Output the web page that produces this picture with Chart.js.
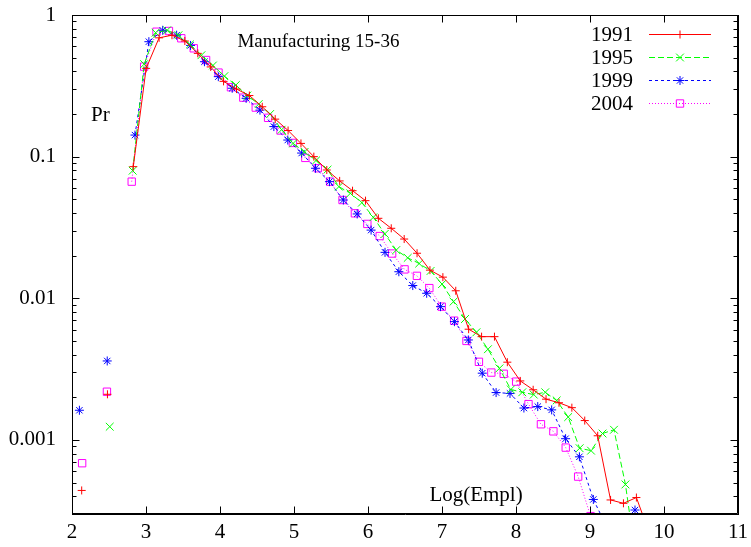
<!DOCTYPE html>
<html><head><meta charset="utf-8">
<script src="https://cdn.jsdelivr.net/npm/chart.js@4/dist/chart.umd.min.js"></script>
<style>html,body{margin:0;padding:0;background:#fff;}#wrap{width:751px;height:547px;}</style>
</head><body><div id="wrap"><canvas id="c" width="751" height="547"></canvas></div>
<script>
// ---- data ----
const seriesNames = ['1991', '1995', '1999', '2004'];

const x1991 = [2.131, 2.305, 2.479, 2.654, 2.828, 3.002, 3.177, 3.351, 3.525, 3.700, 3.874, 4.048, 4.223, 4.397, 4.571, 4.746, 4.920, 5.094, 5.268, 5.443, 5.617, 5.791, 5.966, 6.140, 6.314, 6.489, 6.663, 6.837, 7.012, 7.186, 7.360, 7.535, 7.709, 7.883, 8.058, 8.232, 8.406, 8.581, 8.755, 8.929, 9.104, 9.278, 9.452, 9.627, 9.801];
const y1991 = [0.00044, null, 0.0021, null, 0.085, 0.42, 0.69, 0.72, 0.655, 0.536, 0.43, 0.34, 0.30, 0.27, 0.225, 0.184, 0.153, 0.124, 0.100, 0.0805, 0.0674, 0.0575, 0.0489, 0.0367, 0.0312, 0.0262, 0.0208, 0.0158, 0.0141, 0.0113, 0.00605, 0.00536, 0.00536, 0.00354, 0.00261, 0.00226, 0.00194, 0.00183, 0.00169, 0.00137, 0.00107, 0.000377, 0.000357, 0.000392, 0.00022];

const x1995 = [2.510, 2.665, 2.820, 2.975, 3.130, 3.285, 3.439, 3.594, 3.749, 3.904, 4.059, 4.214, 4.369, 4.523, 4.678, 4.833, 4.988, 5.143, 5.298, 5.453, 5.607, 5.762, 5.917, 6.072, 6.227, 6.382, 6.537, 6.692, 6.846, 7.001, 7.156, 7.311, 7.466, 7.621, 7.776, 7.930, 8.085, 8.240, 8.395, 8.550, 8.705, 8.860, 9.014, 9.169, 9.324, 9.479, 9.634];
const y1995 = [0.00124, null, 0.0796, 0.45, 0.75, 0.78, 0.72, 0.62, 0.52, 0.44, 0.37, 0.32, 0.27, 0.235, 0.20, 0.155, 0.124, 0.108, 0.094, 0.081, 0.0614, 0.0551, 0.0473, 0.0373, 0.0285, 0.0219, 0.0193, 0.0176, 0.0156, 0.0126, 0.00947, 0.00714, 0.00576, 0.00437, 0.0032, 0.00227, 0.00217, 0.00209, 0.00217, 0.0019, 0.00145, 0.000874, 0.00084, 0.00111, 0.00118, 0.000485, 0.00013];

const x1999 = [2.100, 2.288, 2.476, 2.663, 2.851, 3.039, 3.226, 3.414, 3.602, 3.790, 3.977, 4.165, 4.353, 4.540, 4.728, 4.916, 5.103, 5.291, 5.479, 5.667, 5.854, 6.042, 6.230, 6.417, 6.605, 6.793, 6.980, 7.168, 7.356, 7.544, 7.731, 7.919, 8.107, 8.294, 8.482, 8.670, 8.857, 9.045, 9.233, 9.420, 9.608];
const y1999 = [0.00162, null, 0.00361, null, 0.142, 0.648, 0.78, 0.72, 0.61, 0.468, 0.367, 0.304, 0.258, 0.213, 0.163, 0.131, 0.106, 0.0828, 0.0666, 0.0494, 0.0394, 0.0303, 0.0211, 0.0154, 0.0123, 0.01085, 0.00873, 0.00684, 0.00508, 0.00296, 0.00216, 0.00213, 0.00168, 0.00172, 0.00163, 0.00102, 0.00076, 0.00038, 0.00024, null, 0.00032];

const x2004 = [2.137, 2.304, 2.472, 2.639, 2.807, 2.975, 3.142, 3.310, 3.477, 3.645, 3.812, 3.980, 4.148, 4.315, 4.483, 4.650, 4.818, 4.985, 5.153, 5.321, 5.488, 5.656, 5.823, 5.991, 6.158, 6.326, 6.494, 6.661, 6.829, 6.996, 7.164, 7.331, 7.499, 7.667, 7.834, 8.002, 8.169, 8.337, 8.505, 8.672, 8.840, 9.007];
const y2004 = [0.000685, null, 0.00219, null, 0.0666, 0.432, 0.762, 0.771, 0.685, 0.582, 0.481, 0.392, 0.309, 0.261, 0.222, 0.188, 0.153, 0.125, 0.098, 0.0828, 0.0666, 0.0494, 0.0398, 0.0335, 0.0275, 0.0207, 0.0160, 0.0144, 0.0118, 0.00873, 0.00695, 0.0050, 0.00356, 0.00299, 0.00293, 0.00258, 0.00179, 0.00129, 0.00115, 0.000883, 0.000551, 0.00029];

const xTickValues = [2, 3, 4, 5, 6, 7, 8, 9, 10, 11];
const yTickValues = [1, 0.1, 0.01, 0.001];
const yTickLabels = ['1', '0.1', '0.01', '0.001'];
const titleText = 'Manufacturing 15-36';
const yAxisText = 'Pr';
const xAxisText = 'Log(Empl)';

// ---- styles ----
const FONT = 'Liberation Serif';
const styles = [
  {color: '#ff0000', dash: [], point: 'cross', radius: 4},
  {color: '#00ff00', dash: [6, 3], point: 'crossRot', radius: 5.5},
  {color: '#0000ff', dash: [3, 3], point: 'star', radius: 4.5},
  {color: '#ff00ff', dash: [1, 2], point: 'rect', radius: 5.2}
];
const xs = [x1991, x1995, x1999, x2004];
const ys = [y1991, y1995, y1999, y2004];

const datasets = seriesNames.map((name, i) => ({
  label: name,
  data: xs[i].map((x, j) => ({x: x, y: ys[i][j]})),
  xAxisID: 'x',
  yAxisID: 'y',
  borderColor: styles[i].color,
  backgroundColor: 'transparent',
  borderWidth: 1,
  borderDash: styles[i].dash,
  pointStyle: styles[i].point,
  pointRadius: styles[i].radius,
  pointBorderColor: styles[i].color,
  pointBackgroundColor: 'transparent',
  pointBorderWidth: 1,
  spanGaps: false,
  tension: 0,
  fill: false
}));

function drawMarker(ctx, style, radius, x, y) {
  ctx.beginPath();
  if (style === 'cross' || style === 'star') {
    ctx.moveTo(x - radius, y); ctx.lineTo(x + radius, y);
    ctx.moveTo(x, y - radius); ctx.lineTo(x, y + radius);
  }
  if (style === 'crossRot' || style === 'star') {
    const d = radius * Math.SQRT1_2;
    ctx.moveTo(x - d, y - d); ctx.lineTo(x + d, y + d);
    ctx.moveTo(x - d, y + d); ctx.lineTo(x + d, y - d);
  }
  if (style === 'rect') {
    const s = radius * Math.SQRT1_2;
    ctx.rect(x - s, y - s, 2 * s, 2 * s);
  }
  ctx.stroke();
}

function drawFrame(chart) {
  const ctx = chart.ctx, a = chart.chartArea;
  const sx = chart.scales.x, sy = chart.scales.y;
  ctx.save();
  ctx.strokeStyle = '#000000';
  ctx.lineWidth = 1;
  ctx.setLineDash([]);
  const L = Math.round(a.left) + 0.5, T = Math.round(a.top) + 0.5;
  const R = Math.round(a.right) - 0.5, B = Math.round(a.bottom) - 0.5;
  ctx.beginPath();
  ctx.moveTo(L, T); ctx.lineTo(R, T); ctx.lineTo(R, B); ctx.lineTo(L, B); ctx.closePath();
  xTickValues.forEach(v => {
    const px = Math.round(sx.getPixelForValue(v)) + 0.5;
    ctx.moveTo(px, B); ctx.lineTo(px, B - 7);
    ctx.moveTo(px, T); ctx.lineTo(px, T + 7);
  });
  for (let e = -4; e <= 0; e++) {
    for (let k = 1; k <= 9; k++) {
      const v = k * Math.pow(10, e);
      if (v < 0.0003 * 0.999 || v > 1.001) continue;
      const len = k === 1 ? 7 : 4;
      const py = Math.round(sy.getPixelForValue(v)) + 0.5;
      ctx.moveTo(L, py); ctx.lineTo(L + len, py);
      ctx.moveTo(R, py); ctx.lineTo(R - len, py);
    }
  }
  ctx.stroke();
  ctx.restore();
}

const overlayPlugin = {
  id: 'gpoverlay',
  afterDraw(chart) {
    drawFrame(chart);
    const ctx = chart.ctx;
    const sx = chart.scales.x, sy = chart.scales.y;
    ctx.save();
    ctx.fillStyle = '#000';
    ctx.textBaseline = 'middle';
    ctx.font = '19px "' + FONT + '"';
    ctx.textAlign = 'center';
    ctx.fillText(titleText, sx.getPixelForValue(5.33), sy.getPixelForValue(0.645));
    ctx.font = '21px "' + FONT + '"';
    ctx.textAlign = 'left';
    ctx.fillText(yAxisText, 91, sy.getPixelForValue(0.194));
    ctx.textAlign = 'center';
    ctx.fillText(xAxisText, sx.getPixelForValue(7.46), sy.getPixelForValue(0.000403));
    // legend
    const rowY = [34, 57, 80, 103];
    seriesNames.forEach((name, i) => {
      const y = rowY[i];
      ctx.font = '21px "' + FONT + '"';
      ctx.textAlign = 'right';
      ctx.fillStyle = '#000';
      ctx.fillText(name, 633, y + 1);
      ctx.strokeStyle = styles[i].color;
      ctx.lineWidth = 1;
      ctx.setLineDash(styles[i].dash);
      ctx.beginPath();
      ctx.moveTo(649, y + 0.5); ctx.lineTo(711, y + 0.5);
      ctx.stroke();
      ctx.setLineDash([]);
      drawMarker(ctx, styles[i].point, styles[i].radius, 680, y + 0.5);
    });
    ctx.restore();
  }
};

const tickFont = {family: FONT, size: 21};
const frameBorder = {display: true, color: '#000', width: 1};
new Chart(document.getElementById('c').getContext('2d'), {
  type: 'line',
  data: {datasets: datasets},
  options: {
    responsive: false,
    animation: false,
    devicePixelRatio: 1,
    layout: {autoPadding: false, padding: {top: 15, right: 13, left: 0, bottom: 0}},
    plugins: {legend: {display: false}, tooltip: {enabled: false}, title: {display: false}},
    scales: {
      x: {
        type: 'linear', position: 'bottom', min: 2, max: 11,
        afterBuildTicks: s => { s.ticks = xTickValues.map(v => ({value: v})); },
        ticks: {font: tickFont, color: '#000', padding: 6, maxRotation: 0, callback: v => String(v)},
        grid: {display: false, drawTicks: false},
        border: frameBorder,
        afterFit: s => { s.height = 33; s.paddingLeft = 0; s.paddingRight = 0; }
      },
      xTop: {
        type: 'linear', position: 'top', min: 2, max: 11,
        ticks: {display: false},
        grid: {display: false, drawTicks: false},
        border: frameBorder,
        afterFit: s => { s.height = 0; s.paddingLeft = 0; s.paddingRight = 0; }
      },
      y: {
        type: 'logarithmic', position: 'left', min: 0.0003, max: 1,
        afterBuildTicks: s => { s.ticks = yTickValues.map(v => ({value: v})); },
        ticks: {font: tickFont, color: '#000', padding: 16,
          callback: v => { const i = yTickValues.indexOf(v); return i >= 0 ? yTickLabels[i] : ''; }},
        grid: {display: false, drawTicks: false},
        border: frameBorder,
        afterFit: s => { s.width = 72; s.paddingTop = 0; s.paddingBottom = 0; }
      },
      yRight: {
        type: 'logarithmic', position: 'right', min: 0.0003, max: 1,
        ticks: {display: false},
        grid: {display: false, drawTicks: false},
        border: frameBorder,
        afterFit: s => { s.width = 0; s.paddingTop = 0; s.paddingBottom = 0; }
      }
    }
  },
  plugins: [overlayPlugin]
});
</script></body></html>
